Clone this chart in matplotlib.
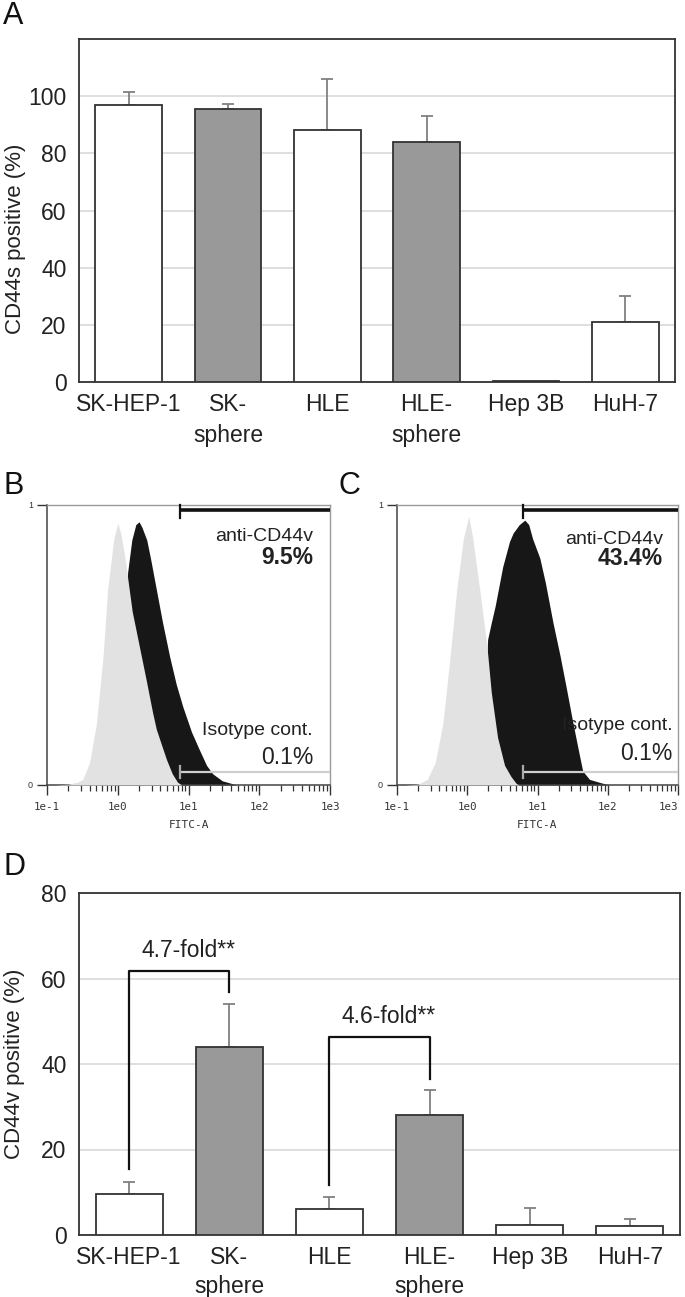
import matplotlib
matplotlib.use("Agg")
import matplotlib.pyplot as plt
import matplotlib.transforms as mtransforms
from matplotlib.ticker import LogLocator, NullFormatter
import numpy as np

plt.rcParams['font.family'] = ['Liberation Sans', 'DejaVu Sans']

# ---------------- data ----------------
cells = ["SK-HEP-1", "SK-\nsphere", "HLE", "HLE-\nsphere", "Hep 3B", "HuH-7"]
is_sphere = [False, True, False, True, False, False]

cd44s_mean = [97.0, 95.5, 88.0, 84.0, 0.2, 21.0]
cd44s_err = [4.5, 1.8, 18.0, 9.0, 0.0, 9.0]

cd44v_mean = [9.5, 44.0, 6.0, 28.0, 2.3, 2.2]
cd44v_err = [2.8, 10.0, 3.0, 6.0, 4.0, 1.6]

fold_pairs = [(0, 1), (2, 3)]
fold_labels = ["4.7-fold**", "4.6-fold**"]
fold_top = [61.8, 46.2]
fold_left_end = [15.5, 11.7]
fold_right_end = [56.8, 36.4]

# flow cytometry histograms (FITC-A value, normalised count)
b_iso_x = [0.13, 0.2, 0.27, 0.32, 0.4, 0.5, 0.62, 0.72, 0.88, 1.0, 1.1, 1.25, 1.38, 1.6, 2.0,
           2.5, 3.1, 3.5, 4.2, 4.9, 5.9, 7.0, 8.0]
b_iso_h = [0.0, 0.003, 0.01, 0.02, 0.08, 0.22, 0.46, 0.70, 0.88, 0.935, 0.9, 0.82, 0.74, 0.62, 0.5,
           0.38, 0.26, 0.2, 0.14, 0.09, 0.04, 0.01, 0.0]
b_anti_x = [0.9, 1.2, 1.38, 1.58, 1.8, 2.0, 2.2, 2.57, 2.9, 3.5, 4.3, 5.4, 6.7, 8.3, 11, 14, 18,
            22, 30, 40, 48]
b_anti_h = [0.0, 0.5, 0.76, 0.875, 0.93, 0.94, 0.92, 0.875, 0.81, 0.70, 0.58, 0.46, 0.36, 0.28,
            0.19, 0.13, 0.07, 0.04, 0.015, 0.006, 0.0]

c_iso_x = [0.13, 0.2, 0.27, 0.35, 0.45, 0.57, 0.71, 0.88, 1.05, 1.2, 1.5, 1.9, 2.2, 2.7, 3.4,
           4.2, 5.0, 5.5]
c_iso_h = [0.0, 0.003, 0.02, 0.08, 0.22, 0.46, 0.70, 0.88, 0.96, 0.88, 0.70, 0.5, 0.33, 0.17,
           0.07, 0.03, 0.005, 0.0]
c_anti_x = [1.0, 1.5, 1.85, 1.9, 1.95, 2.2, 2.5, 3.2, 4.0, 4.5, 5.5, 6.6, 7.5, 8.5, 10.8, 13,
            16.6, 21, 26, 32, 40, 44, 55, 80, 107]
c_anti_h = [0.0, 0.3, 0.42, 0.45, 0.52, 0.58, 0.64, 0.78, 0.87, 0.9, 0.93, 0.946, 0.93, 0.88,
            0.81, 0.72, 0.58, 0.46, 0.34, 0.22, 0.1, 0.05, 0.02, 0.008, 0.0]

b_gate = 7.5
c_gate = 6.2
b_pct = ["anti-CD44v", "9.5%", "Isotype cont.", "0.1%"]
c_pct = ["anti-CD44v", "43.4%", "Isotype cont.", "0.1%"]
flow_xticks = [0.1, 1, 10, 100, 1000]
flow_xlabels = ["1e-1", "1e0", "1e1", "1e2", "1e3"]

# ---------------- figure ----------------
W, H = 685, 1297
fig = plt.figure(figsize=(W / 100, H / 100), dpi=100)


def ax_rect(l, r, t, b):
    return [l / W, 1 - b / H, (r - l) / W, (b - t) / H]


EDGE = '#333333'


def bar_panel(ax, means, errs, ymax, yticks, ylabel, label_top, lsp):
    x = np.arange(len(cells))
    colors = ['#999999' if s else 'white' for s in is_sphere]
    ax.bar(x, means, width=0.67, color=colors, edgecolor=EDGE, linewidth=1.3, zorder=3)
    for xi, m, e in zip(x, means, errs):
        if e > 0:
            ax.errorbar([xi], [m], yerr=[[0], [e]], fmt='none', ecolor='#808080',
                        elinewidth=1.3, capsize=4, capthick=1.3, zorder=2)
    ax.set_xlim(-0.5, len(cells) - 0.5)
    ax.set_ylim(0, ymax)
    ax.set_yticks(yticks)
    ax.set_xticks(x)
    ax.set_xticklabels(cells, linespacing=lsp)
    ax.yaxis.grid(True, color='#dcdcdc', lw=1.3)
    ax.set_axisbelow(True)
    ax.tick_params(axis='both', length=0, labelsize=16.5, colors='#222222')
    ax.tick_params(axis='y', pad=9)
    ax.tick_params(axis='x', pad=8)
    for s in ax.spines.values():
        s.set_color(EDGE)
        s.set_linewidth(1.3)
    trans = mtransforms.blended_transform_factory(ax.transAxes, ax.transData)
    ax.text(-0.107, label_top / 2, ylabel, transform=trans, rotation=90,
            ha='center', va='center', fontsize=16, color='#222222')


# Panel A
axA = fig.add_axes(ax_rect(79, 675, 39, 382))
bar_panel(axA, cd44s_mean, cd44s_err, 120, [0, 20, 40, 60, 80, 100], "CD44s positive (%)", 100, 1.45)

# Panel D
axD = fig.add_axes(ax_rect(79, 680, 893, 1235))
bar_panel(axD, cd44v_mean, cd44v_err, 80, [0, 20, 40, 60, 80], "CD44v positive (%)", 80, 1.3)
for (i, j), lab, top, le, re in zip(fold_pairs, fold_labels, fold_top, fold_left_end, fold_right_end):
    axD.plot([i, i, j, j], [le, top, top, re], color='#111111', lw=1.6, zorder=5)
    axD.text((i + j) / 2 + 0.09, top + 4.8, lab, ha='center', va='center', fontsize=16.5,
             color='#222222')


def flow_panel(ax, iso_x, iso_h, anti_x, anti_h, gate, texts, xa, xi, ys, last_shift=False):
    ax.fill_between(anti_x, anti_h, color='#171717', lw=0, zorder=2)
    ax.fill_between(iso_x, iso_h, color='#e2e2e2', lw=0, zorder=3)
    ax.set_xscale('log')
    ax.set_xlim(0.1, 1000)
    ax.set_ylim(0, 1)
    # gates
    ax.plot([gate, 1000], [0.982, 0.982], color='#111111', lw=2.6, zorder=6, clip_on=False,
            solid_capstyle='butt')
    ax.plot([gate, gate], [0.955, 1.0], color='#111111', lw=1.6, zorder=6, clip_on=False)
    ax.plot([gate, 1000], [0.046, 0.046], color='#cfcfcf', lw=1.6, zorder=6,
            solid_capstyle='butt')
    ax.plot([gate, gate], [0.025, 0.068], color='#aaaaaa', lw=1.6, zorder=6)
    ax.text(xa, ys[0], texts[0], transform=ax.transAxes, ha='right', va='center',
            fontsize=14, color='#222222', zorder=7)
    ax.text(xa, ys[1], texts[1], transform=ax.transAxes, ha='right', va='center',
            fontsize=16.5, fontweight='bold', color='#222222', zorder=7)
    ax.text(xi, ys[2], texts[2], transform=ax.transAxes, ha='right', va='center',
            fontsize=14, color='#222222', zorder=7)
    ax.text(xi, ys[3], texts[3], transform=ax.transAxes, ha='right', va='center',
            fontsize=16.5, color='#222222', zorder=7)
    ax.set_xticks(flow_xticks)
    ax.set_xticklabels(flow_xlabels, fontfamily='DejaVu Sans Mono', fontsize=7.8)
    if last_shift:
        lbl = ax.get_xticklabels()[-1]
        lbl.set_horizontalalignment('right')
        lbl.set_transform(lbl.get_transform() +
                          mtransforms.ScaledTranslation(7 / 100, 0, fig.dpi_scale_trans))
    ax.xaxis.set_minor_locator(LogLocator(base=10, subs=np.arange(2, 10)))
    ax.xaxis.set_minor_formatter(NullFormatter())
    ax.set_yticks([0, 1])
    ax.set_yticklabels(['0', '1'], fontsize=6.5)
    ax.tick_params(axis='x', which='major', length=7, width=1, direction='out', pad=5,
                   colors='#333333')
    ax.tick_params(axis='x', which='minor', length=4, width=0.9, direction='out',
                   colors='#333333')
    ax.tick_params(axis='y', length=7, width=1, direction='out', pad=3, colors='#333333')
    for k in ['top', 'right']:
        ax.spines[k].set_color('#9a9a9a')
        ax.spines[k].set_linewidth(1.0)
    for k in ['left', 'bottom']:
        ax.spines[k].set_color('#444444')
        ax.spines[k].set_linewidth(1.1)
    ax.text(0.5, -40 / 280, 'FITC-A', transform=ax.transAxes, ha='center', va='center',
            fontsize=8, fontfamily='DejaVu Sans Mono', color='#333333')


axB = fig.add_axes(ax_rect(47, 330, 505, 785))
flow_panel(axB, b_iso_x, b_iso_h, b_anti_x, b_anti_h, b_gate, b_pct, 0.94, 0.94,
           [0.886, 0.814, 0.196, 0.10])
axC = fig.add_axes(ax_rect(397, 678, 505, 785))
flow_panel(axC, c_iso_x, c_iso_h, c_anti_x, c_anti_h, c_gate, c_pct, 0.947, 0.982,
           [0.875, 0.81, 0.214, 0.114], last_shift=True)

# panel letters
for letter, (px, py) in zip("ABCD", [(3, 16), (3, 486), (338, 486), (3, 867)]):
    fig.text(px / W, 1 - py / H, letter, fontsize=22, ha='left', va='center', color='#111111')

fig.savefig("out.png", dpi=100)
